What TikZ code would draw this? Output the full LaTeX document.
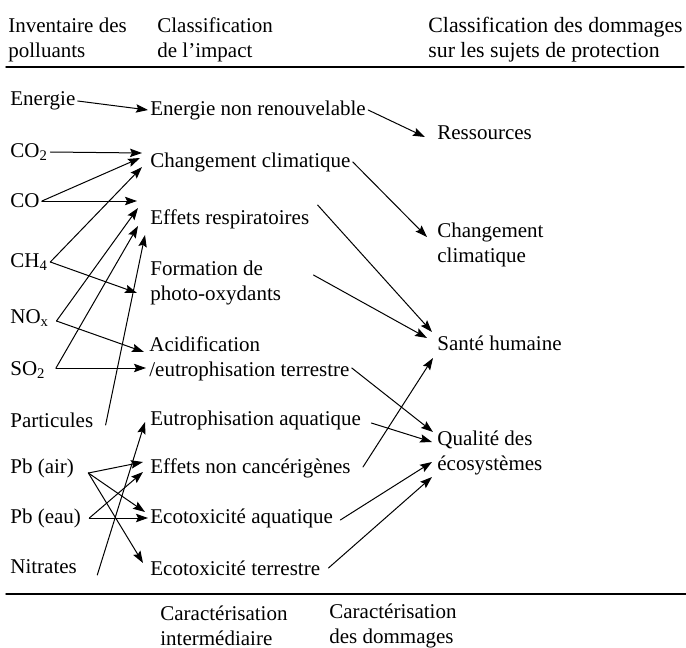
\documentclass[tikz,border=0pt]{standalone}
\usepackage{fontspec}
\setmainfont{Liberation Serif}
\usetikzlibrary{arrows.meta}

\begin{document}
\begin{tikzpicture}[x=0.5pt, y=-0.5pt, font=\fontsize{10.5}{12.5}\selectfont, line join=round, line cap=round, >={Stealth[length=6pt,width=4.2pt,inset=1pt]},
	txt/.style={anchor=west, inner sep=1pt, align=left},
	fl/.style={->, line width=0.5pt}]
	\useasboundingbox (0,0) rectangle (686,648);
	% en-tetes et pied
	\node[txt] (h1) at (6,40) {Inventaire des\\polluants};
	\node[txt] (h2) at (155,40) {Classification\\de l'impact};
	\node[txt, font=\fontsize{10.9}{12.5}\selectfont] (h3) at (426,40) {Classification des dommages\\sur les sujets de protection};
	\node[txt] (b1) at (158,626) {Caractérisation\\intermédiaire};
	\node[txt] (b2) at (327,626) {Caractérisation\\des dommages};
	\draw[line width=0.7pt] (6,67)--(684,67);
	\draw[line width=0.7pt] (6,594)--(686,594);
	% polluants
	\node[txt] (en) at (8,101) {Energie};
	\node[txt] (co2) at (8,152) {CO\textsubscript{2}};
	\node[txt] (co) at (8,201) {CO};
	\node[txt] (ch4) at (8,262) {CH\textsubscript{4}};
	\node[txt] (nox) at (8,318) {NO\textsubscript{x}};
	\node[txt] (so2) at (8,370) {SO\textsubscript{2}};
	\node[txt] (pa) at (8,420) {Particules};
	\node[txt] (pba) at (8,468) {Pb (air)};
	\node[txt] (pbe) at (8,518) {Pb (eau)};
	\node[txt] (ni) at (8,567) {Nitrates};
	% impacts
	\node[txt] (enr) at (148,110) {Energie non renouvelable};
	\node[txt] (cc) at (148,162) {Changement climatique};
	\node[txt] (er) at (148,219) {Effets respiratoires};
	\node[txt] (fo) at (148,283) {Formation de\\photo-oxydants};
	\node[txt] (ac) at (147,359) {Acidification\\/eutrophisation terrestre};
	\node[txt] (ea) at (148,420) {Eutrophisation aquatique};
	\node[txt] (enc) at (148,468) {Effets non cancérigènes};
	\node[txt] (eca) at (148,518) {Ecotoxicité aquatique};
	\node[txt] (ect) at (148,568) {Ecotoxicité terrestre};
	% dommages
	\node[txt] (res) at (435,133) {Ressources};
	\node[txt] (cl) at (435,245) {Changement\\climatique};
	\node[txt] (sh) at (435,343) {Santé humaine};
	\node[txt] (qe) at (435,453) {Qualité des\\écosystèmes};
	% polluants -> impacts
	\draw[fl] (en.east) -- (enr.west);
	\draw[fl] (co2.east) -- ([shift={(-6,-9)}]cc.west);
	\draw[fl] (co.east) -- ([shift={(-8,-4)}]cc.west);
	\draw[fl] (co.east) -- ([shift={(-11,-18)}]er.west);
	\draw[fl] (ch4.east) -- ([shift={(-6,5)}]cc.west);
	\draw[fl] (ch4.east) -- ([shift={(-11,10)}]fo.west);
	\draw[fl] ([shift={(5,3)}]nox.east) -- ([shift={(-10,-11)}]er.west);
	\draw[fl] ([shift={(5,3)}]nox.east) -- ([shift={(-3,-7)}]ac.west);
	\draw[fl] ([shift={(8,-2)}]so2.east) -- ([shift={(-1,9)}]ac.west);
	\draw[fl] ([shift={(8,-2)}]so2.east) -- ([shift={(-10,7)}]er.west);
	\draw[fl] ([shift={(10,5)}]pa.east) -- ([shift={(-3,16)}]er.west);
	\draw[fl] ([shift={(12,5)}]pba.east) -- ([shift={(-5,-6)}]enc.west);
	\draw[fl] ([shift={(12,5)}]pba.east) -- ([shift={(-3,-6)}]eca.west);
	\draw[fl] ([shift={(12,5)}]pba.east) -- ([shift={(-5,-5)}]ect.west);
	\draw[fl] ([shift={(6,0)}]pbe.east) -- ([shift={(-5,4)}]enc.west);
	\draw[fl] ([shift={(6,0)}]pbe.east) -- (eca.west);
	\draw[fl] ([shift={(18,8)}]ni.east) -- ([shift={(-3,2)}]ea.west);
	% impacts -> dommages
	\draw[fl] (enr.east) -- ([shift={(-10,4)}]res.west);
	\draw[fl] (cc.east) -- ([shift={(-8,-8)}]cl.west);
	\draw[fl] ([shift={(6,-14)}]er.east) -- ([shift={(-3,-11)}]sh.west);
	\draw[fl] ([shift={(30,-8)}]fo.east) -- ([shift={(-8,-5)}]sh.west);
	\draw[fl] ([shift={(0,9)}]ac.east) -- ([shift={(-2,-21)}]qe.west);
	\draw[fl] ([shift={(8,3)}]ea.east) -- ([shift={(-3,-11)}]qe.west);
	\draw[fl] ([shift={(10,-1)}]enc.east) -- ([shift={(-2,15)}]sh.west);
	\draw[fl] ([shift={(5,2)}]eca.east) -- ([shift={(-3,9)}]qe.west);
	\draw[fl] ([shift={(6,0)}]ect.east) -- ([shift={(-3,24)}]qe.west);
\end{tikzpicture}
\end{document}
